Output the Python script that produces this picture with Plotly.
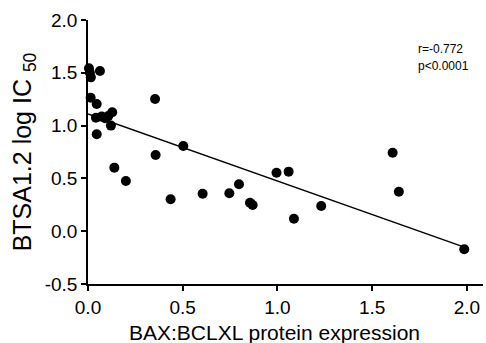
import plotly.graph_objects as go

# BAX:BCLXL protein expression (x) vs BTSA1.2 log IC50 (y)
bax_bclxl = [0.005, 0.010, 0.015, 0.063, 0.014, 0.046, 0.042, 0.072, 0.090, 0.107,
             0.128, 0.121, 0.046, 0.354, 0.357, 0.503, 0.139, 0.200, 0.436, 0.605,
             0.746, 0.797, 0.855, 0.869, 0.995, 1.059, 1.087, 1.231, 1.608, 1.641,
             1.986]
log_ic50 = [1.543, 1.500, 1.457, 1.517, 1.264, 1.205, 1.075, 1.085, 1.069, 1.090,
            1.126, 1.000, 0.918, 1.252, 0.722, 0.807, 0.602, 0.475, 0.302, 0.355,
            0.359, 0.444, 0.270, 0.248, 0.554, 0.564, 0.118, 0.239, 0.743, 0.374,
            -0.171]

fit_x = [0.0, 1.986]
fit_intercept = 1.11
fit_slope = -0.635

x_ticks = [0.0, 0.5, 1.0, 1.5, 2.0]
x_tick_labels = ["0.0", "0.5", "1.0", "1.5", "2.0"]
y_ticks = [-0.5, 0.0, 0.5, 1.0, 1.5, 2.0]
y_tick_labels = ["-0.5", "0.0", "0.5", "1.0", "1.5", "2.0"]

x_title = "BAX:BCLXL protein expression"
y_title = "BTSA1.2 log IC <sub>50</sub>"
stats_text = ["r=-0.772", "p<0.0001"]

FONT = "Liberation Sans, Arial, sans-serif"

fig = go.Figure()
fig.add_trace(go.Scatter(
    x=fit_x, y=[fit_intercept + fit_slope * v for v in fit_x],
    mode="lines", line=dict(color="black", width=1.5), hoverinfo="skip",
    showlegend=False))
fig.add_trace(go.Scatter(
    x=bax_bclxl, y=log_ic50, mode="markers",
    marker=dict(color="black", size=10, line=dict(width=0)),
    showlegend=False, cliponaxis=False))

fig.add_annotation(x=0.83, y=0.89, xref="paper", yref="paper", text=stats_text[0],
                   showarrow=False, xanchor="left", yanchor="middle",
                   font=dict(family=FONT, size=12, color="black"))
fig.add_annotation(x=0.83, y=0.825, xref="paper", yref="paper", text=stats_text[1],
                   showarrow=False, xanchor="left", yanchor="middle",
                   font=dict(family=FONT, size=12, color="black"))
# x-axis title centred under the 0.0-2.0 tick span
fig.add_annotation(x=0.5 * (x_ticks[0] + x_ticks[-1]) - 0.015, y=-0.182,
                   xref="x", yref="paper", text=x_title,
                   showarrow=False, xanchor="center", yanchor="middle",
                   font=dict(family=FONT, size=21, color="black"))

fig.update_layout(
    width=486, height=343,
    margin=dict(l=88, r=3, t=20, b=59),
    paper_bgcolor="white", plot_bgcolor="white",
    font=dict(family=FONT, color="black"),
    xaxis=dict(range=[0, 2.085], tickvals=x_ticks, ticktext=x_tick_labels,
               ticks="outside", ticklen=5, tickwidth=1.5, tickcolor="black",
               showline=True, linecolor="black", linewidth=1.5,
               showgrid=False, zeroline=False,
               tickfont=dict(family=FONT, size=19, color="black")),
    yaxis=dict(range=[-0.5, 2.0], tickvals=y_ticks, ticktext=y_tick_labels,
               ticks="outside", ticklen=5, tickwidth=1.5, tickcolor="black",
               showline=True, linecolor="black", linewidth=1.5,
               showgrid=False, zeroline=False,
               tickfont=dict(family=FONT, size=19, color="black"),
               title=dict(text=y_title, standoff=6,
                          font=dict(family=FONT, size=25, color="black"))),
)

fig.write_html("out.html")
